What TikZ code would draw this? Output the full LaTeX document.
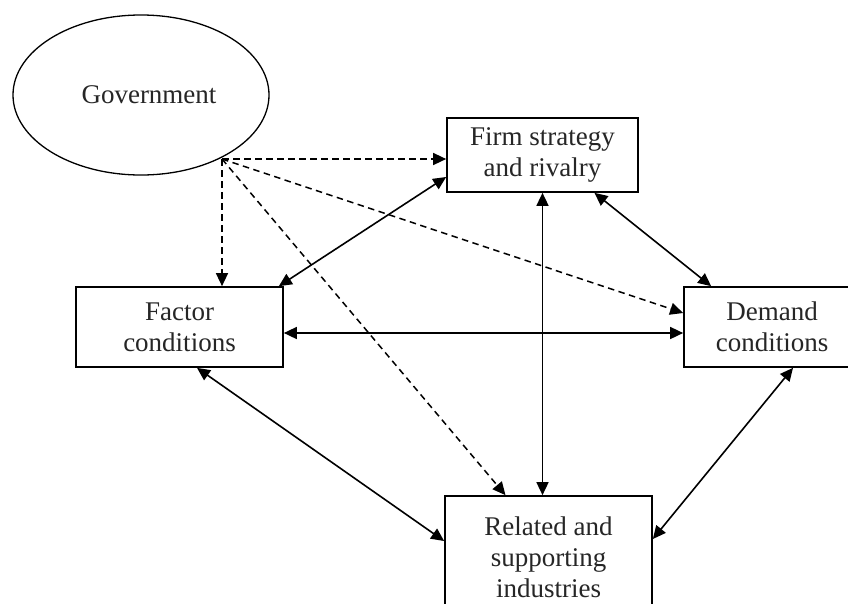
\documentclass[tikz,border=0pt]{standalone}
\usepackage{fontspec}
\setmainfont{Liberation Serif}
\usetikzlibrary{shapes.geometric,arrows.meta,calc}
\begin{document}
\begin{tikzpicture}[x=1pt,y=-1pt,
  txt/.style={font=\fontsize{27}{31}\selectfont, align=center, text=black!85},
  boxnode/.style={txt, draw, line width=1.7pt, inner sep=0pt, fill=white},
  dasharrow/.style={line width=1.5pt, dash pattern=on 6.5pt off 4.5pt, -{Triangle[length=13pt,width=12pt]}},
  twoway/.style={line width=1.6pt, {Triangle[length=13pt,width=12pt]}-{Triangle[length=13pt,width=12pt]}}]
\useasboundingbox (0,0) rectangle (848,603);
\fill[white] (0,0) rectangle (848,603);
\node[txt, draw, ellipse, line width=1.3pt, minimum width=256pt, minimum height=160pt, inner sep=0pt] (gov) at (141,95) {\hspace{16pt}Government};
\node[boxnode, minimum width=191pt, minimum height=74pt] (firm) at (542.5,155) {Firm strategy\\and rivalry};
\node[boxnode, minimum width=207pt, minimum height=80pt] (factor) at (179.5,327) {Factor\\conditions};
\node[boxnode, minimum width=176pt, minimum height=80pt] (demand) at (772,327) {Demand\\conditions};
\node[boxnode, minimum width=207pt, minimum height=122pt] (related) at (548.5,557) {Related and\\supporting\\industries};
\coordinate (gp) at (222,159);
% dashed influences of government
\draw[dasharrow] (gp) -- (gp -| firm.west);
\draw[dasharrow] (gp) -- (gp |- factor.north);
\draw[dasharrow] (gp) -- ($(demand.west)+(0,-14)$);
\draw[dasharrow] (gp) -- ($(related.north)+(-43,0)$);
% two-way links
\draw[twoway] ($(factor.north east)+(-5,0)$) -- ($(firm.west)+(0,22)$);
\draw[twoway] ($(factor.east)+(0,6)$) -- ($(demand.west)+(0,6)$);
\draw[twoway] (firm.south) -- (firm.south |- related.north);
\draw[twoway] ($(firm.south)+(52,0)$) -- ($(demand.north west)+(28,0)$);
\draw[twoway] ($(factor.south)+(17.5,0)$) -- ($(related.west)+(0,-16)$);
\draw[twoway] ($(demand.south)+(21,0)$) -- ($(related.east)+(0,-18)$);
\end{tikzpicture}
\end{document}
